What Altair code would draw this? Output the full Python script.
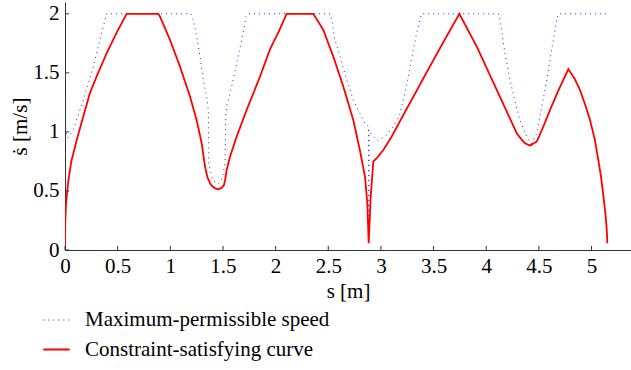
import altair as alt
import pandas as pd

# Maximum-permissible speed (blue dotted)
blue_s = [0.005, 0.008, 0.03, 0.079, 0.174, 0.269, 0.348, 0.396, 1.195, 1.218,
          1.25, 1.282, 1.313, 1.345, 1.361, 1.366, 1.377, 1.40, 1.425, 1.456,
          1.485, 1.503, 1.52, 1.526, 1.535, 1.583, 1.63, 1.678, 1.719, 1.74,
          2.517, 2.532, 2.564, 2.612, 2.675, 2.738, 2.80, 2.849, 2.882, 2.885,
          2.888, 2.912, 2.975, 3.055, 3.118, 3.181, 3.213, 3.25, 3.276, 3.34,
          3.387, 4.115, 4.131, 4.178, 4.226, 4.27, 4.32, 4.385, 4.43, 4.48,
          4.527, 4.575, 4.62, 4.653, 4.67, 4.685, 5.16]
blue_v = [1.33, 1.0, 0.95, 1.02, 1.27, 1.55, 1.84, 2.0, 2.0, 1.95,
          1.81, 1.64, 1.44, 1.30, 1.186, 0.735, 0.678, 0.61, 0.575, 0.56,
          0.59, 0.65, 0.735, 1.13, 1.215, 1.384, 1.58, 1.78, 1.977, 2.0,
          2.0, 1.95, 1.78, 1.638, 1.44, 1.27, 1.158, 1.07, 1.045, 0.25,
          1.02, 0.975, 0.926, 0.975, 1.045, 1.158, 1.27, 1.42, 1.55, 1.84,
          2.0, 2.0, 1.95, 1.667, 1.44, 1.27, 1.10, 0.96, 0.90, 0.99,
          1.21, 1.44, 1.69, 1.86, 1.95, 2.0, 2.0]

# Constraint-satisfying curve (red solid)
red_s = [0.0, 0.003, 0.01, 0.032, 0.06, 0.111, 0.17, 0.237, 0.31, 0.396,
         0.49, 0.586, 0.886, 0.902, 0.997, 1.092, 1.187, 1.25, 1.298, 1.33,
         1.351, 1.375, 1.393, 1.425, 1.456, 1.485, 1.51, 1.522, 1.535, 1.567,
         1.63, 1.725, 1.852, 1.947, 2.03, 2.105, 2.358, 2.453, 2.548, 2.643,
         2.738, 2.80, 2.849, 2.871, 2.884, 2.903, 2.928, 2.96, 3.023, 3.102,
         3.181, 3.26, 3.34, 3.45, 3.593, 3.745, 3.91, 4.10, 4.29, 4.34,
         4.368, 4.416, 4.48, 4.54, 4.606, 4.69, 4.78, 4.84, 4.89, 4.94,
         4.986, 5.03, 5.065, 5.09, 5.11, 5.128, 5.138, 5.146, 5.15]
red_v = [0.05, 0.25, 0.4, 0.59, 0.75, 0.93, 1.12, 1.33, 1.49, 1.667,
         1.84, 2.0, 2.0, 1.977, 1.78, 1.553, 1.30, 1.10, 0.904, 0.706,
         0.62, 0.57, 0.545, 0.522, 0.514, 0.525, 0.55, 0.6, 0.678, 0.79,
         0.96, 1.186, 1.469, 1.70, 1.85, 2.0, 2.0, 1.864, 1.638, 1.384,
         1.10, 0.847, 0.62, 0.395, 0.057, 0.45, 0.75, 0.777, 0.847, 0.96,
         1.09, 1.22, 1.35, 1.53, 1.76, 2.0, 1.723, 1.356, 0.989, 0.93,
         0.904, 0.884, 0.918, 1.04, 1.186, 1.36, 1.531, 1.45, 1.356, 1.23,
         1.10, 0.94, 0.76, 0.62, 0.48, 0.34, 0.25, 0.15, 0.057]

x_ticks = [0, 0.5, 1, 1.5, 2, 2.5, 3, 3.5, 4, 4.5, 5]
y_ticks = [0, 0.5, 1, 1.5, 2]
names = ["Maximum-permissible speed", "Constraint-satisfying curve"]
colors = ["#2020ff", "#ff0000"]

rows = []
for i, (s, v) in enumerate(zip(blue_s, blue_v)):
    rows.append({"s": s, "v": v, "series": names[0], "i": i})
for i, (s, v) in enumerate(zip(red_s, red_v)):
    rows.append({"s": s, "v": v, "series": names[1], "i": i})
df = pd.DataFrame(rows)

FONT = "Liberation Serif, Times New Roman, DejaVu Serif, serif"
FS = 21
xscale = alt.Scale(domain=[0, 5.375], nice=False, zero=False)
yscale = alt.Scale(domain=[0, 2.1], nice=False)

legend = alt.Legend(
    title=None, orient="none", legendX=-23, legendY=304,
    labelFont=FONT, labelFontSize=FS, labelColor="black", labelLimit=500,
    symbolType="stroke", symbolSize=700, labelOffset=14,
    rowPadding=5, padding=0,
)

lines = alt.Chart(df).mark_line(clip=True).encode(
    x=alt.X("s:Q", scale=xscale,
            axis=alt.Axis(values=x_ticks, title="s [m]", format="~g",
                          tickSize=0, grid=False, labelPadding=5,
                          labelFlush=False, titlePadding=4)),
    y=alt.Y("v:Q", scale=yscale,
            axis=alt.Axis(values=y_ticks, title="ṡ [m/s]", format="~g",
                          tickSize=0, grid=False, labelPadding=6,
                          labelFlush=False, titlePadding=2)),
    color=alt.Color("series:N", scale=alt.Scale(domain=names, range=colors),
                    legend=legend),
    strokeDash=alt.StrokeDash("series:N",
                              scale=alt.Scale(domain=names, range=[[1, 4], [1, 0]]),
                              legend=legend),
    strokeWidth=alt.StrokeWidth("series:N",
                                scale=alt.Scale(domain=names, range=[1, 1.8]),
                                legend=legend),
    order=alt.Order("i:Q"),
)

xt = alt.Chart(pd.DataFrame({"t": x_ticks})).mark_rule(color="#333", strokeWidth=1).encode(
    x=alt.X("t:Q", scale=xscale), y=alt.datum(0), y2=alt.datum(0.035))
yt = alt.Chart(pd.DataFrame({"t": y_ticks})).mark_rule(color="#333", strokeWidth=1).encode(
    y=alt.Y("t:Q", scale=yscale), x=alt.datum(0), x2=alt.datum(0.04))

chart = alt.layer(lines, xt, yt).properties(
    width=566, height=248,
    autosize=alt.AutoSizeParams(type="none"),
    padding={"left": 65, "top": 2, "right": 0, "bottom": 120},
).configure_view(stroke=None).configure_axis(
    labelFont=FONT, titleFont=FONT, labelFontSize=FS, titleFontSize=FS,
    labelColor="black", titleColor="black", titleFontWeight="normal",
    domainColor="#333", domainWidth=1,
)

chart.save("out.html", embed_options={"renderer": "svg", "actions": False})
